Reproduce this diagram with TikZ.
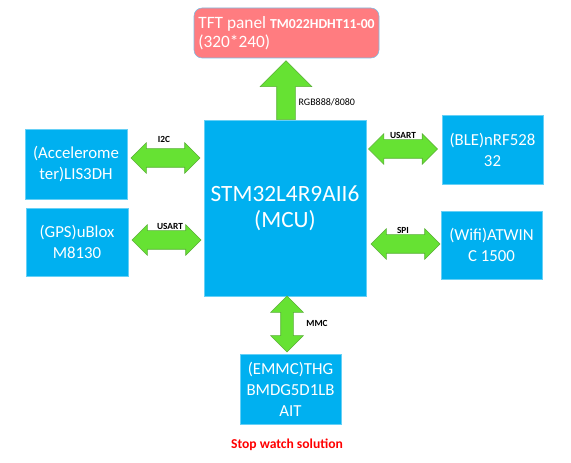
\documentclass[tikz,border=0pt]{standalone}
\usepackage{fontspec}
\setmainfont{Carlito}
\usetikzlibrary{shapes.arrows}
\definecolor{boxblue}{RGB}{0,176,240}
\definecolor{panelred}{RGB}{255,124,128}
\definecolor{panelline}{RGB}{120,190,230}
\definecolor{busgreen}{RGB}{102,226,51}
\definecolor{busline}{RGB}{90,175,55}
\begin{document}
\begin{tikzpicture}[x=0.75pt, y=-0.75pt,
    chip/.style={fill=boxblue, draw=boxblue!60!white, text=white, align=center,
        font=\fontsize{12.6}{15.75}\selectfont, inner sep=0pt},
    bus/.style={double arrow, fill=busgreen, draw=busline, inner xsep=0pt, inner ysep=6.75pt,
        minimum width=22.5pt, double arrow head extend=4.5pt, minimum height=51.75pt},
    buslabel/.style={fill=white, inner sep=1pt, font=\bfseries\fontsize{7}{8}\selectfont}]
   % \draw[help lines] (0, 0) grid (571, 463);
   \useasboundingbox (0, 0) rectangle (571, 463);
   \node [chip, minimum width=121.5pt, minimum height=132pt,
          font=\fontsize{17.5}{19.5}\selectfont] (mcu) at (285, 208) {STM32L4R9AII6\\(MCU)};
   \node [fill=panelred, draw=panelline, rounded corners=6pt, text=white, align=left,
          minimum width=138.75pt, minimum height=37.5pt, inner sep=3pt,
          font=\fontsize{13}{14.25}\selectfont] (tft) at (286.5, 33)
          {TFT panel {\bfseries\fontsize{10.3}{12}\selectfont TM022HDHT11-00}\\(320*240)};
   \node [chip, minimum width=76.5pt, minimum height=52.5pt] (acc) at (76, 164) {(Accelerome\\ter)LIS3DH};
   \node [chip, minimum width=76.5pt, minimum height=51pt] (gps) at (77, 242) {(GPS)uBlox\\M8130};
   \node [chip, minimum width=75.75pt, minimum height=51.75pt] (ble) at (492.5, 149.5) {(BLE)nRF528\\32};
   \node [chip, minimum width=75.75pt, minimum height=51pt] (wifi) at (491.5, 245) {(Wifi)ATWIN\\C 1500};
   \node [chip, minimum width=75.75pt, minimum height=52.5pt] (emmc) at (290.5, 389) {(EMMC)THG\\BMDG5D1LB\\AIT};
   % buses
   \node [single arrow, fill=busgreen, draw=busline, inner xsep=0pt, inner ysep=6.75pt, rotate=90, anchor=tail,
          minimum width=38.25pt, single arrow head extend=12.4pt, minimum height=44.25pt] (rgb) at (286, 120) {};
   \node [bus] (i2c) at (165.5, 158) {};
   \node [bus] (usartl) at (166.5, 240) {};
   \node [bus] (usartr) at (403, 149) {};
   \node [bus] (spi) at (405.5, 244) {};
   \node [bus, rotate=90, minimum height=42pt, inner ysep=4.5pt, minimum width=24pt,
          double arrow head extend=7.5pt] (mmc) at (287, 324) {};
   \node [buslabel, fill=none, anchor=west, font=\fontsize{7.5}{8}\selectfont] (rgblabel) at (297, 102) {RGB888/8080};
   \node [buslabel] (i2clabel) at (164, 139) {I2C};
   \node [buslabel] (usartllabel) at (170, 226) {USART};
   \node [buslabel] (usartrlabel) at (403, 135) {USART};
   \node [buslabel] (spilabel) at (403, 230) {SPI};
   \node [buslabel] (mmclabel) at (317, 323) {MMC};
   \node [text=red, font=\bfseries\fontsize{10.2}{12}\selectfont] (title) at (287, 445) {Stop watch solution};
\end{tikzpicture}
\end{document}
